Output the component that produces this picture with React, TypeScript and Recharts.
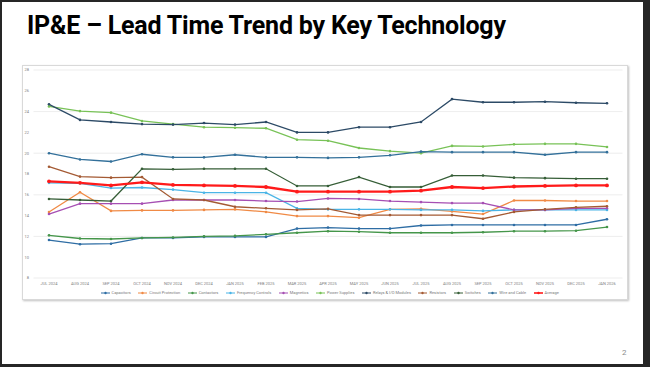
import React from 'react';
import { LineChart, Line, XAxis, YAxis, CartesianGrid, Legend } from 'recharts';

const months = [
  'JUL 2024', 'AUG 2024', 'SEP 2024', 'OCT 2024', 'NOV 2024', 'DEC 2024', 'JAN 2025',
  'FEB 2025', 'MAR 2025', 'APR 2025', 'MAY 2025', 'JUN 2025', 'JUL 2025', 'AUG 2025',
  'SEP 2025', 'OCT 2025', 'NOV 2025', 'DEC 2025', 'JAN 2026',
];

const capacitors = [11.65, 11.25, 11.3, 11.85, 11.85, 11.95, 11.95, 11.95, 12.75, 12.85, 12.75, 12.75, 13.05, 13.1, 13.1, 13.1, 13.1, 13.1, 13.65];
const circuitProtection = [14.35, 16.25, 14.45, 14.5, 14.5, 14.55, 14.6, 14.35, 13.95, 13.95, 13.8, 14.6, 14.65, 14.4, 14.15, 15.45, 15.45, 15.4, 15.4];
const contactors = [12.1, 11.8, 11.75, 11.85, 11.9, 12.0, 12.05, 12.2, 12.35, 12.5, 12.45, 12.35, 12.35, 12.35, 12.4, 12.5, 12.5, 12.55, 12.9];
const frequencyControls = [17.15, 17.1, 16.65, 16.7, 16.5, 16.2, 16.2, 16.2, 14.7, 14.6, 14.6, 14.6, 14.55, 14.55, 14.45, 14.55, 14.55, 14.55, 14.55];
const magnetics = [14.15, 15.15, 15.15, 15.15, 15.5, 15.5, 15.5, 15.4, 15.35, 15.65, 15.6, 15.4, 15.3, 15.2, 15.2, 14.55, 14.55, 14.7, 14.7];
const powerSupplies = [24.5, 24.05, 23.9, 23.1, 22.8, 22.5, 22.45, 22.4, 21.3, 21.2, 20.5, 20.2, 20.0, 20.7, 20.65, 20.85, 20.9, 20.9, 20.6];
const relays = [24.7, 23.2, 23.0, 22.8, 22.75, 22.9, 22.75, 23.0, 22.0, 22.0, 22.5, 22.5, 23.0, 25.2, 24.9, 24.9, 24.95, 24.85, 24.8];
const resistors = [18.7, 17.75, 17.65, 17.7, 15.6, 15.5, 14.85, 14.7, 14.55, 14.65, 14.05, 14.05, 14.05, 14.05, 13.7, 14.35, 14.6, 14.8, 14.9];
const switches = [15.6, 15.5, 15.4, 18.5, 18.45, 18.5, 18.5, 18.5, 16.85, 16.85, 17.7, 16.75, 16.75, 17.85, 17.85, 17.65, 17.6, 17.55, 17.55];
const wireAndCable = [20.0, 19.4, 19.2, 19.9, 19.6, 19.6, 19.85, 19.6, 19.6, 19.55, 19.6, 19.8, 20.15, 20.1, 20.1, 20.1, 19.85, 20.1, 20.1];
const average = [17.3, 17.15, 16.9, 17.2, 16.95, 16.9, 16.85, 16.75, 16.3, 16.3, 16.3, 16.3, 16.4, 16.75, 16.65, 16.8, 16.85, 16.9, 16.9];

const yTicks = [8, 10, 12, 14, 16, 18, 20, 22, 24, 26, 28];

const series = [
  { key: 'Capacitors', values: capacitors, color: '#2e6da4' },
  { key: 'Circuit Protection', values: circuitProtection, color: '#f08a45' },
  { key: 'Contactors', values: contactors, color: '#45964a' },
  { key: 'Frequency Controls', values: frequencyControls, color: '#4ab4e6' },
  { key: 'Magnetics', values: magnetics, color: '#a64fb3' },
  { key: 'Power Supplies', values: powerSupplies, color: '#78c257' },
  { key: 'Relays & I/O Modules', values: relays, color: '#2c4a66' },
  { key: 'Resistors', values: resistors, color: '#a45a33' },
  { key: 'Switches', values: switches, color: '#365e37' },
  { key: 'Wire and Cable', values: wireAndCable, color: '#33709a' },
  { key: 'Average', values: average, color: '#ff1a1a' },
];
const seriesOrder = series.map(s => s.key);

const chartData = months.map((m, i) => {
  const row: Record<string, string | number> = { month: m };
  series.forEach(s => { row[s.key] = s.values[i]; });
  return row;
});

const tickStyle = { fill: '#808080', fontSize: 4, fontFamily: 'Roboto, sans-serif' };

// keep legend in series order (recharts sorts by name otherwise)
const LegendContent = ({ payload }: any) => {
  const items = [...(payload || [])].sort((a: any, b: any) => seriesOrder.indexOf(a.value) - seriesOrder.indexOf(b.value));
  return (
    <div style={{ display: 'flex', justifyContent: 'center', alignItems: 'center', gap: 7.5, height: 9, paddingLeft: 14, fontFamily: 'Roboto, sans-serif', fontSize: 4, color: '#7a7a7a' }}>
      {items.map((p: any) => (
        <span key={p.value} style={{ display: 'flex', alignItems: 'center' }}>
          <svg width={9} height={4} style={{ marginRight: 2 }}>
            <line x1={0} y1={2} x2={9} y2={2} stroke={p.color} strokeWidth={p.value === 'Average' ? 1.6 : 1} />
            <circle cx={4.5} cy={2} r={1.2} fill={p.color} />
          </svg>
          {p.value}
        </span>
      ))}
    </div>
  );
};

export default function App() {
  return (
    <div style={{ position: 'absolute', left: 0, top: 0, width: 650, height: 367, background: '#262626', overflow: 'hidden' }}>
      <div style={{ position: 'absolute', left: 2, top: 2, width: 641, height: 362, background: '#fff' }}>
        <div style={{ position: 'absolute', left: 25, top: 10.6, fontFamily: 'Roboto, sans-serif', fontWeight: 700, fontSize: 25, lineHeight: '25px', letterSpacing: -0.2, color: '#000', whiteSpace: 'nowrap' }}>
          IP&amp;E – Lead Time Trend by Key Technology
        </div>
        <div style={{ position: 'absolute', left: 20, top: 63, width: 606, height: 235, boxSizing: 'border-box', border: '1px solid #d9d9d9', boxShadow: '1px 1px 2px rgba(0,0,0,0.25)', background: '#fff' }}>
          <LineChart width={604} height={233} data={chartData} margin={{ top: 4, right: 4.5, left: 0, bottom: 2 }}>
            <CartesianGrid vertical={false} stroke="#e8e8e8" strokeWidth={0.8} />
            <XAxis
              dataKey="month"
              padding={{ left: 15.5, right: 15.5 }}
              axisLine={false}
              tickLine={false}
              tickSize={0}
              tickMargin={3.7}
              height={10}
              interval={0}
              tick={tickStyle}
            />
            <YAxis
              domain={[8, 28]}
              ticks={yTicks}
              width={10.5}
              axisLine={false}
              tickLine={false}
              tickSize={0}
              tickMargin={4.5}
              tick={tickStyle}
            />
            <Legend verticalAlign="bottom" height={9} content={<LegendContent />} />
            {series.map(s => (
              <Line
                key={s.key}
                type="linear"
                dataKey={s.key}
                stroke={s.color}
                strokeWidth={s.key === 'Average' ? 2.3 : 1.3}
                dot={{ r: s.key === 'Average' ? 1.9 : 1.3, fill: s.color, stroke: s.color, strokeWidth: 0 }}
                isAnimationActive={false}
              />
            ))}
          </LineChart>
        </div>
        <div style={{ position: 'absolute', left: 620, top: 346, fontFamily: 'Roboto, sans-serif', fontSize: 8, color: '#8c8c8c' }}>2</div>
      </div>
    </div>
  );
}
